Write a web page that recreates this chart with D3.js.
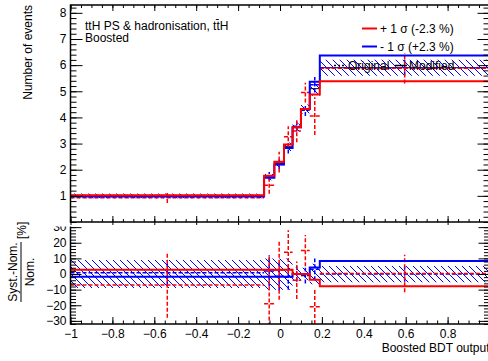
<!DOCTYPE html>
<html>
<head>
<meta charset="utf-8">
<script src="https://cdn.jsdelivr.net/npm/d3@7"></script>
<style>
  body { margin: 0; background: #fff; }
  svg { display: block; font-family: 'Liberation Sans', Arial, Helvetica, sans-serif; }
  .axis text { font-size: 12px; fill: #000; font-family: 'Liberation Sans', Arial, sans-serif; }
  .axis line { stroke: #000; stroke-width: 1; }
</style>
</head>
<body>
<div id="chart"></div>
<script>
// BINNING + UPPER PAD (events)
const binEdges = [-1, -0.076, -0.027, 0.019, 0.06, 0.1, 0.142, 0.19, 1];
const nominal = [1.0, 1.72, 2.24, 2.88, 3.62, 4.32, 5.1, 5.9];
const nominalErr = [0.09, 0.12, 0.14, 0.16, 0.15, 0.17, 0.27, 0.31];
const upModified = [1.025, 1.77, 2.3, 2.96, 3.62, 4.32, 4.88, 5.38];
const downModified = [0.98, 1.69, 2.2, 2.83, 3.62, 4.32, 5.36, 6.37];
const upOriginal = [0.93, 1.41, 2.29, 3.26, 3.48, 4.95, 4.05, 5.88];
const upOriginalErr = [0.2, 0.33, 0.4, 0.4, 0.43, 0.38, 0.72, 0.58];
const downOriginal = [1.01, 1.76, 2.2, 2.82, 3.66, 4.27, 5.25, 5.9];
const downOriginalErr = [0.08, 0.15, 0.18, 0.2, 0.2, 0.22, 0.3, 0.3];

// LOWER PAD (Syst.-Nom.)/Nom. in %
const ratioStatErr = [9, 10, 10, 10, 4, 4, 6.5, 5.2];
const ratioUpModified = [2.7, 2.7, 2.7, 2.7, 0, 0, -3.6, -7.8];
const ratioDownModified = [-1.8, -1.8, -1.8, -1.8, 0, 0, 4.2, 8.4];
const ratioUpOriginal = [-7, -19, 2.5, 14, -4, 15, -21, 0.3];
const ratioUpOriginalErr = [21, 30, 19, 14, 12, 10, 11, 12];
const ratioDownOriginal = [0.8, 2, -1.5, -2, 0, -1, 3, 0];
const ratioDownOriginalErr = [8, 10, 9, 8, 5, 5, 7, 5];

// TICKS
const xTickLabels = [-1, -0.8, -0.6, -0.4, -0.2, 0, 0.2, 0.4, 0.6, 0.8];
const yTopTicks = [1, 2, 3, 4, 5, 6, 7, 8];
const yLowTicks = [-30, -20, -10, 0, 10, 20, 30];

const legendEntries = [
  { label: '+ 1 \u03c3 (-2.3 %)', color: '#ff0000' },
  { label: '- 1 \u03c3 (+2.3 %)', color: '#0000ff' },
];

const width = 488;
const height = 361;
const frame = { left: 70.5, right: 489.5, top: 5, mid: 222, lowTop: 224, bottom: 324 };

const svg = d3.select('#chart').append('svg')
  .attr('width', width)
  .attr('height', height);

const x = d3.scaleLinear().domain([-1, 1]).range([frame.left, frame.right]);
const yTop = d3.scaleLinear().domain([0, 8.3]).range([frame.mid, frame.top]);
const yLow = d3.scaleLinear().domain([-32, 32]).range([frame.bottom, frame.lowTop]);

const defs = svg.append('defs');
defs.append('pattern')
  .attr('id', 'hatch')
  .attr('patternUnits', 'userSpaceOnUse')
  .attr('width', 7)
  .attr('height', 7)
  .append('path')
  .attr('d', 'M0,0L7,7M-1,6L1,8M6,-1L8,1')
  .attr('stroke', '#0000ff')
  .attr('stroke-width', 1);
defs.append('clipPath').attr('id', 'clipTop').append('rect')
  .attr('x', frame.left).attr('y', frame.top)
  .attr('width', frame.right - frame.left).attr('height', frame.mid - frame.top);
defs.append('clipPath').attr('id', 'clipLow').append('rect')
  .attr('x', frame.left).attr('y', frame.lowTop)
  .attr('width', frame.right - frame.left).attr('height', frame.bottom - frame.lowTop);

const stepPoints = function(values) {
  return binEdges.map(function(e, i) { return [e, values[Math.min(i, values.length - 1)]]; });
};

const drawStep = function(g, yScale, values, color, w) {
  const line = d3.line()
    .x(function(d) { return x(d[0]); })
    .y(function(d) { return yScale(d[1]); })
    .curve(d3.curveStepAfter);
  g.append('path')
    .attr('d', line(stepPoints(values)))
    .attr('fill', 'none')
    .attr('stroke', color)
    .attr('stroke-width', w);
};

const drawBand = function(g, yScale, center, errors) {
  const pts = binEdges.map(function(e, i) {
    const k = Math.min(i, errors.length - 1);
    const c = center ? center[k] : 0;
    return [e, c - errors[k], c + errors[k]];
  });
  const area = d3.area()
    .x(function(d) { return x(d[0]); })
    .y0(function(d) { return yScale(d[1]); })
    .y1(function(d) { return yScale(d[2]); })
    .curve(d3.curveStepAfter);
  g.append('path').attr('d', area(pts)).attr('fill', 'url(#hatch)');
};

const drawErrors = function(g, yScale, values, errors, color) {
  const bins = values.map(function(v, i) {
    return { lo: binEdges[i], hi: binEdges[i + 1], v: v, err: errors[i] };
  });
  const eg = g.append('g')
    .attr('stroke', color)
    .attr('stroke-width', 1.5)
    .attr('stroke-dasharray', '4,2')
    .attr('fill', 'none');
  eg.selectAll('line.h').data(bins).enter().append('line')
    .attr('class', 'h')
    .attr('x1', function(d) { return x(d.lo); })
    .attr('x2', function(d) { return x(d.hi); })
    .attr('y1', function(d) { return yScale(d.v); })
    .attr('y2', function(d) { return yScale(d.v); });
  eg.selectAll('line.v').data(bins).enter().append('line')
    .attr('class', 'v')
    .attr('x1', function(d) { return x((d.lo + d.hi) / 2); })
    .attr('x2', function(d) { return x((d.lo + d.hi) / 2); })
    .attr('y1', function(d) { return yScale(d.v - d.err); })
    .attr('y2', function(d) { return yScale(d.v + d.err); });
};

const addAxis = function(axis, tx, ty) {
  const g = svg.append('g')
    .attr('class', 'axis')
    .attr('transform', 'translate(' + tx + ',' + ty + ')')
    .call(axis);
  g.select('.domain').remove();
  return g;
};

const fmt = d3.format('~g');
const minorX = d3.range(-1, 1.0001, 0.05);

// LOWER PAD
const lowerPad = svg.append('g').attr('clip-path', 'url(#clipLow)');
drawBand(lowerPad, yLow, null, ratioStatErr);
drawErrors(lowerPad, yLow, ratioDownOriginal, ratioDownOriginalErr, '#0000ff');
drawErrors(lowerPad, yLow, ratioUpOriginal, ratioUpOriginalErr, '#ff0000');
drawStep(lowerPad, yLow, ratioDownModified, '#0000ff', 2);
drawStep(lowerPad, yLow, ratioUpModified, '#ff0000', 2);

addAxis(d3.axisLeft(yLow).tickValues(yLowTicks).tickSize(-11).tickSizeOuter(0).tickPadding(4).tickFormat(fmt), frame.left, 0);
addAxis(d3.axisLeft(yLow).tickValues(d3.range(-32, 33, 2)).tickSize(-5.5).tickSizeOuter(0).tickFormat(''), frame.left, 0);
addAxis(d3.axisRight(yLow).tickValues(yLowTicks).tickSize(-11).tickSizeOuter(0).tickFormat(''), frame.right, 0);
addAxis(d3.axisRight(yLow).tickValues(d3.range(-32, 33, 2)).tickSize(-5.5).tickSizeOuter(0).tickFormat(''), frame.right, 0);
addAxis(d3.axisBottom(x).tickValues(xTickLabels).tickSize(-7).tickSizeOuter(0).tickPadding(5).tickFormat(fmt), 0, frame.bottom);
addAxis(d3.axisBottom(x).tickValues(minorX).tickSize(-3.5).tickSizeOuter(0).tickFormat(''), 0, frame.bottom);

svg.append('path')
  .attr('d', 'M' + frame.left + ',' + frame.lowTop + 'V' + frame.bottom + 'H' + frame.right + 'V' + frame.lowTop)
  .attr('fill', 'none').attr('stroke', '#000').attr('stroke-width', 1.5);

// UPPER PAD covers the top of the lower one
svg.append('rect').attr('x', 0).attr('y', 0).attr('width', width).attr('height', 226.5).attr('fill', '#fff');

const upperPad = svg.append('g').attr('clip-path', 'url(#clipTop)');
drawBand(upperPad, yTop, nominal, nominalErr);
drawStep(upperPad, yTop, nominal, '#000', 1);
drawErrors(upperPad, yTop, downOriginal, downOriginalErr, '#0000ff');
drawErrors(upperPad, yTop, upOriginal, upOriginalErr, '#ff0000');
drawStep(upperPad, yTop, downModified, '#0000ff', 2);
drawStep(upperPad, yTop, upModified, '#ff0000', 2);

addAxis(d3.axisLeft(yTop).tickValues(yTopTicks).tickSize(-12).tickSizeOuter(0).tickPadding(4).tickFormat(fmt), frame.left, 0);
addAxis(d3.axisLeft(yTop).tickValues(d3.range(0, 8.31, 0.2)).tickSize(-6).tickSizeOuter(0).tickFormat(''), frame.left, 0);
addAxis(d3.axisRight(yTop).tickValues(yTopTicks).tickSize(-12).tickSizeOuter(0).tickFormat(''), frame.right, 0);
addAxis(d3.axisRight(yTop).tickValues(d3.range(0, 8.31, 0.2)).tickSize(-6).tickSizeOuter(0).tickFormat(''), frame.right, 0);
addAxis(d3.axisBottom(x).tickValues(xTickLabels).tickSize(-6).tickSizeOuter(0).tickFormat(''), 0, frame.mid);
addAxis(d3.axisBottom(x).tickValues(minorX).tickSize(-3).tickSizeOuter(0).tickFormat(''), 0, frame.mid);
addAxis(d3.axisTop(x).tickValues(xTickLabels).tickSize(-3).tickSizeOuter(0).tickFormat(''), 0, frame.mid);
addAxis(d3.axisTop(x).tickValues(xTickLabels).tickSize(-6).tickSizeOuter(0).tickFormat(''), 0, frame.top);
addAxis(d3.axisTop(x).tickValues(minorX).tickSize(-3).tickSizeOuter(0).tickFormat(''), 0, frame.top);

svg.append('rect')
  .attr('x', frame.left).attr('y', frame.top)
  .attr('width', frame.right - frame.left).attr('height', frame.mid - frame.top)
  .attr('fill', 'none').attr('stroke', '#000').attr('stroke-width', 1.5);

// LABELS
svg.append('text')
  .attr('transform', 'translate(32,' + frame.top + ') rotate(-90)')
  .attr('text-anchor', 'end')
  .attr('font-size', 12)
  .text('Number of events');

svg.append('text')
  .attr('x', frame.right).attr('y', 352)
  .attr('text-anchor', 'end')
  .attr('font-size', 12)
  .text('Boosted BDT output');

const ratioTitle = svg.append('g').attr('transform', 'translate(21,272) rotate(-90)').attr('font-size', 12);
ratioTitle.append('text').attr('x', 0).attr('y', -4).attr('text-anchor', 'middle').text('Syst.-Nom.');
ratioTitle.append('text').attr('x', 0).attr('y', 13).attr('text-anchor', 'middle').text('Nom.');
ratioTitle.append('line').attr('x1', -30).attr('x2', 30).attr('y1', 0).attr('y2', 0)
  .attr('stroke', '#000').attr('stroke-width', 1);
ratioTitle.append('text').attr('x', 33).attr('y', 5).text('[%]');

// top-left label, the bar over the second t drawn as a short line
const info = svg.append('g').attr('font-size', 12);
const infoLine = info.append('text').attr('x', 85).attr('y', 29.5)
  .text('ttH PS & hadronisation, ttH');
info.append('text').attr('x', 85).attr('y', 42).text('Boosted');
const infoWidth = infoLine.node().getComputedTextLength();
info.append('line')
  .attr('x1', 85 + infoWidth - 12.6).attr('x2', 85 + infoWidth - 9.6)
  .attr('y1', 19.5).attr('y2', 19.5)
  .attr('stroke', '#000').attr('stroke-width', 0.9);

// LEGEND
const legend = svg.append('g').selectAll('g').data(legendEntries).enter().append('g')
  .attr('transform', function(d, i) { return 'translate(362,' + (28.5 + i * 18) + ')'; });
legend.append('line')
  .attr('x1', 0).attr('x2', 15).attr('y1', 0).attr('y2', 0)
  .attr('stroke', function(d) { return d.color; })
  .attr('stroke-width', 2);
legend.append('text')
  .attr('x', 18).attr('y', 4)
  .attr('font-size', 12)
  .text(function(d) { return d.label; });

const styleKey = svg.append('g').attr('transform', 'translate(0,65.5)');
styleKey.append('line').attr('x1', 334).attr('x2', 346).attr('y1', 0).attr('y2', 0)
  .attr('stroke', '#000').attr('stroke-width', 1.5).attr('stroke-dasharray', '2,2');
styleKey.append('text').attr('x', 348).attr('y', 4).attr('font-size', 12).text('Original');
styleKey.append('line').attr('x1', 395).attr('x2', 407).attr('y1', 0).attr('y2', 0)
  .attr('stroke', '#000').attr('stroke-width', 1.5);
styleKey.append('text').attr('x', 409).attr('y', 4).attr('font-size', 12).text('Modified');
</script>
</body>
</html>
